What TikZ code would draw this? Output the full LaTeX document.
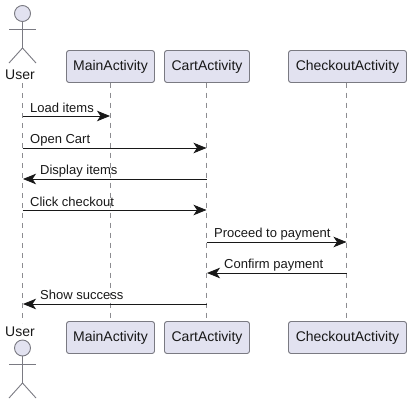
\documentclass[tikz,border=0pt]{standalone}
\usepackage{fontspec}
\setmainfont{Liberation Sans}
\usetikzlibrary{arrows.meta}

\definecolor{partfill}{HTML}{E2E2F0}
\definecolor{partline}{HTML}{7A7A82}
\definecolor{dashline}{HTML}{8C8C90}
\definecolor{msgline}{HTML}{181818}

\tikzset{
  partbox/.style={draw=partline, fill=partfill, line width=0.9pt, rounded corners=2.5pt,
    minimum height=32pt, inner sep=0pt, font=\fontsize{14}{16}\selectfont, text=msgline},
  actorname/.style={inner sep=0pt, font=\fontsize{14}{16}\selectfont, text=msgline},
  actorhead/.style={circle, draw=partline, fill=partfill, line width=0.9pt, minimum size=16pt, inner sep=0pt},
  stick/.style={draw=partline, line width=0.9pt},
  lifeline/.style={draw=dashline, line width=0.6pt, dash pattern=on 5pt off 5pt},
  msg/.style={draw=msgline, line width=0.9pt,
    -{Stealth[length=13pt, width=10.5pt, inset=3.5pt]}},
  msglabel/.style={inner sep=0pt, font=\fontsize{13}{15}\selectfont, text=msgline, anchor=base west}
}

\begin{document}
\begin{tikzpicture}[x=1pt, y=-1pt]
\useasboundingbox (0,0) rectangle (411,404);

% lifelines
\coordinate (ut) at (22.5,83);    \coordinate (ub) at (22.5,323);
\coordinate (mt) at (110.5,82.5); \coordinate (mb) at (110.5,321.5);
\coordinate (ct) at (206.5,82.5); \coordinate (cb) at (206.5,321.5);
\coordinate (kt) at (346.5,82.5); \coordinate (kb) at (346.5,321.5);

\draw[lifeline] (ut) -- (ub);
\draw[lifeline] (mt) -- (mb);
\draw[lifeline] (ct) -- (cb);
\draw[lifeline] (kt) -- (kb);

% top row
\node[actorhead] (userhead) at (22.5,13.5) {};
\node[actorname] (user) at (20,75) {User};
\node[partbox, minimum width=88pt] (main) at (110.5,66.5) {MainActivity};
\node[partbox, minimum width=85pt] (cart) at (207,66.5) {CartActivity};
\node[partbox, minimum width=118pt] (checkout) at (347.5,66.5) {CheckoutActivity};

% bottom row
\node[actorname] (userb) at (20,332) {User};
\node[actorhead] (userheadb) at (22.5,348) {};
\node[partbox, minimum width=88pt] (mainb) at (110.5,337.5) {MainActivity};
\node[partbox, minimum width=85pt] (cartb) at (207,337.5) {CartActivity};
\node[partbox, minimum width=118pt] (checkoutb) at (347.5,337.5) {CheckoutActivity};

% stick figures
\coordinate (hip) at (22.5,48);
\coordinate (hipb) at (22.5,383);
\draw[stick] (userhead) -- (hip);
\draw[stick] (9,29) -- (36,29);
\draw[stick] (9,63) -- (hip) -- (36,63);
\draw[stick] (userheadb) -- (hipb);
\draw[stick] (9,364) -- (36,364);
\draw[stick] (9,398) -- (hipb) -- (36,398);

% message ends
\coordinate (u1) at (22.5,116);  \coordinate (m1) at (110,116);
\coordinate (u2) at (22.5,148);  \coordinate (c2) at (206.5,148);
\coordinate (u3) at (23,179);    \coordinate (c3) at (206.5,179);
\coordinate (u4) at (22.5,210);  \coordinate (c4) at (206.5,210);
\coordinate (c5) at (206.5,242); \coordinate (k5) at (346.5,242);
\coordinate (c6) at (207,273);   \coordinate (k6) at (346.5,273);
\coordinate (u7) at (23,304);    \coordinate (c7) at (206.5,304);

\draw[msg] (u1) -- (m1);
\draw[msg] (u2) -- (c2);
\draw[msg] (c3) -- (u3);
\draw[msg] (u4) -- (c4);
\draw[msg] (c5) -- (k5);
\draw[msg] (k6) -- (c6);
\draw[msg] (c7) -- (u7);

\node[msglabel] (l1) at (30,112) {Load items};
\node[msglabel] (l2) at (30,143) {Open Cart};
\node[msglabel] (l3) at (40,174) {Display items};
\node[msglabel] (l4) at (30,206) {Click checkout};
\node[msglabel] (l5) at (214,237) {Proceed to payment};
\node[msglabel] (l6) at (224,268) {Confirm payment};
\node[msglabel] (l7) at (40,299) {Show success};

\end{tikzpicture}
\end{document}
